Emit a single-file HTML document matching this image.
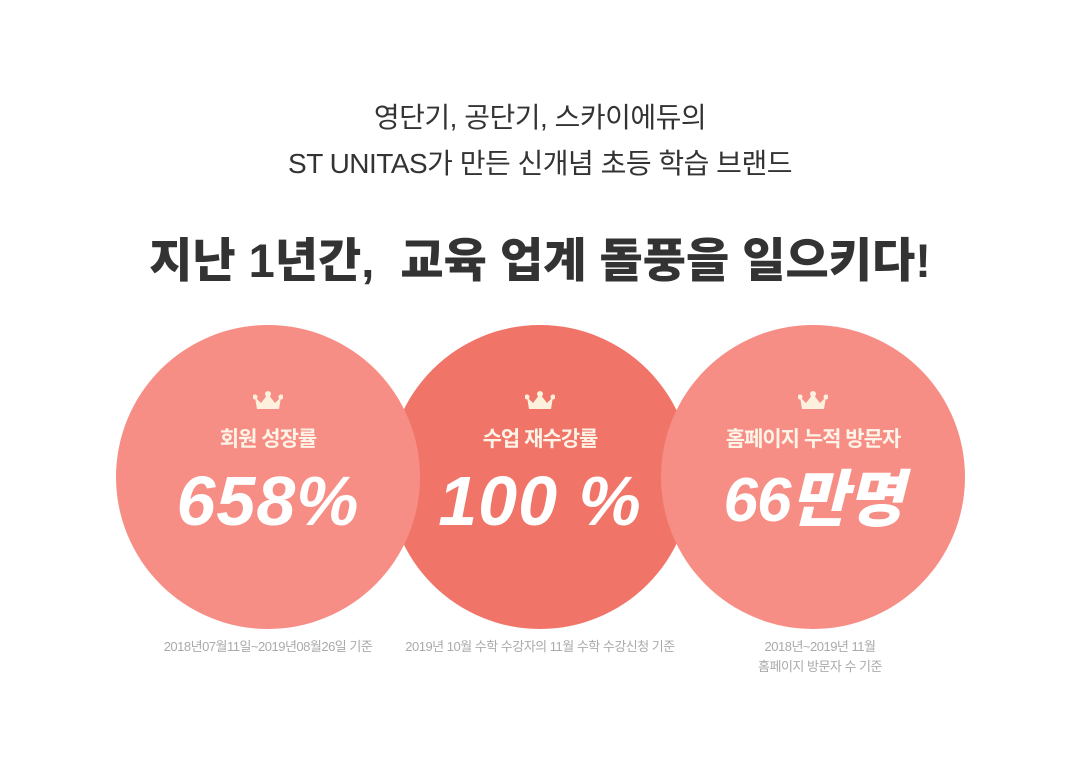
<!DOCTYPE html>
<html><head><meta charset="utf-8"><style>
body{margin:0;width:1080px;height:779px;background:#fff;position:relative;overflow:hidden;font-family:"Liberation Sans","Noto Sans CJK KR",sans-serif}
.t{position:absolute;left:0;width:1080px;text-align:center}
.c{position:absolute;width:304px;height:304px;border-radius:50%;top:325px}
.crown{position:absolute;left:50%;top:66px;transform:translateX(-50%)}
.lbl{position:absolute;top:98px;width:100%;text-align:center;color:#fdf3e6;font-size:21px;font-weight:bold;letter-spacing:-1px}
.num{position:absolute;top:136px;height:80px;line-height:80px;width:100%;text-align:center;color:#fff;font-size:70px;font-weight:900;font-style:italic;letter-spacing:1px}
.note{position:absolute;color:#aaa;font-size:13px;text-align:center;line-height:20px;letter-spacing:-0.5px}
</style></head><body>
<div class="t" style="top:95px;font-size:28px;color:#333;line-height:46px;letter-spacing:-0.5px">영단기, 공단기, 스카이에듀의<br>ST UNITAS가 만든 신개념 초등 학습 브랜드</div>
<div class="t" style="top:222px;font-size:47px;font-weight:900;color:#333;letter-spacing:0px">지난 1년간,&nbsp; 교육 업계 돌풍을 일으키다!</div>

<div class="c" style="left:388px;background:#f07568">
<svg class="crown" width="30" height="20" viewBox="0 0 30 20"><path d="M2 6 L8 12 L15 3 L22 12 L28 6 L26 18 L4 18Z" fill="#fdf1de"/><circle cx="15" cy="3" r="3" fill="#fdf1de"/><circle cx="2" cy="6" r="2.5" fill="#fdf1de"/><circle cx="28" cy="6" r="2.5" fill="#fdf1de"/></svg>
<div class="lbl">수업 재수강률</div>
<div class="num">100 %</div></div>

<div class="c" style="left:116px;background:#f78e85">
<svg class="crown" width="30" height="20" viewBox="0 0 30 20"><path d="M2 6 L8 12 L15 3 L22 12 L28 6 L26 18 L4 18Z" fill="#fdf1de"/><circle cx="15" cy="3" r="3" fill="#fdf1de"/><circle cx="2" cy="6" r="2.5" fill="#fdf1de"/><circle cx="28" cy="6" r="2.5" fill="#fdf1de"/></svg>
<div class="lbl">회원 성장률</div>
<div class="num">658%</div></div>

<div class="c" style="left:661px;background:#f78e85">
<svg class="crown" width="30" height="20" viewBox="0 0 30 20"><path d="M2 6 L8 12 L15 3 L22 12 L28 6 L26 18 L4 18Z" fill="#fdf1de"/><circle cx="15" cy="3" r="3" fill="#fdf1de"/><circle cx="2" cy="6" r="2.5" fill="#fdf1de"/><circle cx="28" cy="6" r="2.5" fill="#fdf1de"/></svg>
<div class="lbl">홈페이지 누적 방문자</div>
<div class="num" style="font-size:62px;letter-spacing:-1px">66만명</div></div>

<div class="note" style="left:118px;width:300px;top:637px">2018년07월11일~2019년08월26일 기준</div>
<div class="note" style="left:390px;width:300px;top:637px">2019년 10월 수학 수강자의 11월 수학 수강신청 기준</div>
<div class="note" style="left:670px;width:300px;top:637px">2018년~2019년 11월<br>홈페이지 방문자 수 기준</div>
</body></html>
